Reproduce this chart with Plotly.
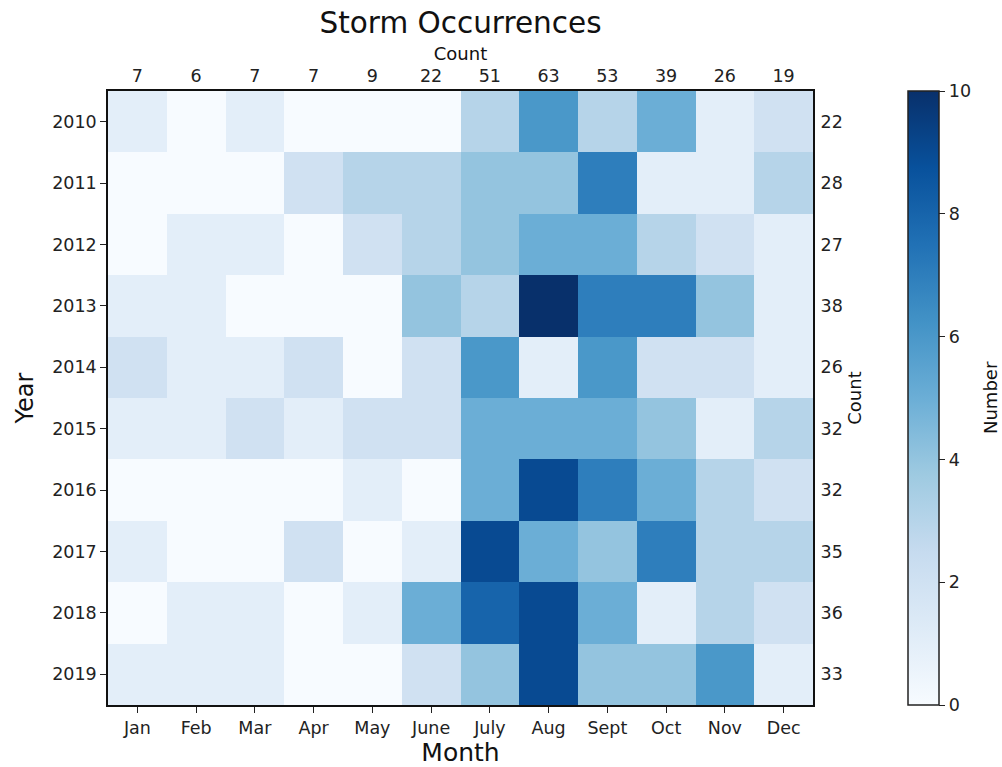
import plotly.graph_objects as go

months = ["Jan", "Feb", "Mar", "Apr", "May", "June", "July", "Aug", "Sept", "Oct", "Nov", "Dec"]
years = ["2010", "2011", "2012", "2013", "2014", "2015", "2016", "2017", "2018", "2019"]

# storms per month, one row per year
counts = [
    [1, 0, 1, 0, 0, 0, 3, 6, 3, 5, 1, 2],
    [0, 0, 0, 2, 3, 3, 4, 4, 7, 1, 1, 3],
    [0, 1, 1, 0, 2, 3, 4, 5, 5, 3, 2, 1],
    [1, 1, 0, 0, 0, 4, 3, 10, 7, 7, 4, 1],
    [2, 1, 1, 2, 0, 2, 6, 1, 6, 2, 2, 1],
    [1, 1, 2, 1, 2, 2, 5, 5, 5, 4, 1, 3],
    [0, 0, 0, 0, 1, 0, 5, 9, 7, 5, 3, 2],
    [1, 0, 0, 2, 0, 1, 9, 5, 4, 7, 3, 3],
    [0, 1, 1, 0, 1, 5, 8, 9, 5, 1, 3, 2],
    [1, 1, 1, 0, 0, 2, 4, 9, 4, 4, 6, 1],
]

month_totals = [sum(row[j] for row in counts) for j in range(len(months))]
year_totals = [sum(row) for row in counts]

blues = ["#f7fbff", "#deebf7", "#c6dbef", "#9ecae1", "#6baed6",
         "#4292c6", "#2171b5", "#08519c", "#08306b"]
colorscale = [[i / (len(blues) - 1), c] for i, c in enumerate(blues)]

xi = list(range(len(months)))
yi = list(range(len(years)))

FONT = "DejaVu Sans"
TICK = 17.5
LABEL = 18
W, H = 1002, 767
L, R, T, B = 108, 189, 91, 62
PW = W - L - R

fig = go.Figure()
fig.add_trace(go.Heatmap(
    z=counts, x=xi, y=yi, zmin=0, zmax=10,
    colorscale=colorscale, hoverinfo="skip",
    colorbar=dict(
        x=(908 - L) / PW, xanchor="left", xref="paper", xpad=0, ypad=0,
        y=0.5, len=1.0, lenmode="fraction",
        thickness=31, outlinecolor="#222222", outlinewidth=1.5,
        tickvals=[0, 2, 4, 6, 8, 10], ticks="outside", ticklen=6, tickcolor="#222222",
        tickfont=dict(family=FONT, size=TICK, color="#222222"),
    ),
))
# invisible trace to carry the secondary (total) axes
fig.add_trace(go.Scatter(x=[0, 11], y=[0, 9], xaxis="x2", yaxis="y2",
                         mode="markers", marker=dict(opacity=0), hoverinfo="skip",
                         showlegend=False))

axis_common = dict(showline=True, linecolor="#111111", linewidth=1.5, automargin=False,
                   ticks="outside", ticklen=6, tickcolor="#222222", tickwidth=1.2,
                   showgrid=False, zeroline=False,
                   tickfont=dict(family=FONT, size=TICK, color="#222222"))
# total axes: labels only, no tick marks
total_axis = dict(axis_common, showline=False, tickcolor="rgba(0,0,0,0)")

fig.update_layout(
    width=W, height=H,
    margin=dict(l=L, r=R, t=T, b=B, autoexpand=False),
    plot_bgcolor="white", paper_bgcolor="white",
    showlegend=False,
    title=dict(text="Storm Occurrences", x=0.5, xref="paper", xanchor="center",
               y=1 - 23 / H, yanchor="middle",
               font=dict(family=FONT, size=29.5, color="#111111")),
    xaxis=dict(axis_common, mirror=True, range=[-0.5, 11.5], tickvals=xi, ticktext=months,
               title=dict(text="Month", standoff=8, font=dict(family=FONT, size=25, color="#111111"))),
    yaxis=dict(axis_common, mirror=True, range=[9.5, -0.5], tickvals=yi, ticktext=years,
               title=dict(text="Year", standoff=12, font=dict(family=FONT, size=24, color="#111111"))),
    xaxis2=dict(total_axis, ticklen=1, overlaying="x", side="top", range=[-0.5, 11.5],
                tickvals=xi, ticktext=[str(v) for v in month_totals],
                title=dict(text="Count", standoff=0, font=dict(family=FONT, size=LABEL, color="#111111"))),
    yaxis2=dict(total_axis, ticklen=3, overlaying="y", side="right", range=[9.5, -0.5],
                tickvals=yi, ticktext=[str(v) for v in year_totals],
                title=dict(text="Count", standoff=6, font=dict(family=FONT, size=LABEL, color="#111111"))),
    annotations=[dict(text="Number", textangle=-90, xref="paper", yref="paper",
                      x=(990 - L) / PW, y=0.5, xanchor="center", yanchor="middle",
                      showarrow=False, font=dict(family=FONT, size=LABEL, color="#111111"))],
)

fig.write_html("out.html")
